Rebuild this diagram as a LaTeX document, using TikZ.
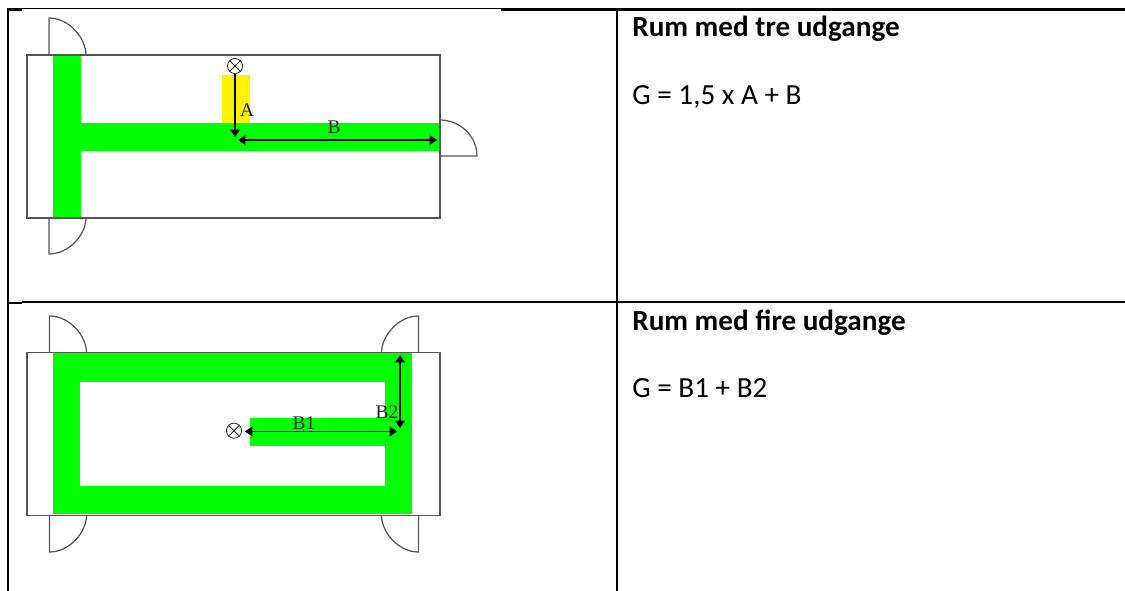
\documentclass[tikz,border=0pt]{standalone}
\usepackage{fontspec}
\setmainfont{Carlito}
\newfontfamily\planfont{Liberation Serif}
\usetikzlibrary{arrows.meta}
\definecolor{planline}{RGB}{85,85,85}
\tikzset{
  rule/.style={black,line width=1.15pt},
  thinrule/.style={black,line width=0.6pt},
  wall/.style={planline,line width=0.7pt},
  route/.style={fill={rgb,255:red,0;green,255;blue,0}},
  measure/.style={black,line width=0.6pt,{Triangle[length=4.2pt,width=5.6pt]}-{Triangle[length=4.2pt,width=5.6pt]}},
  drop/.style={black,line width=0.6pt,-{Triangle[length=4.2pt,width=5.6pt]}},
  planlabel/.style={inner sep=0pt,font=\planfont\fontsize{11}{11}\selectfont,text=black!85},
  target/.style={draw=black!80,circle,line width=0.5pt,minimum size=8.6pt,inner sep=0pt},
  celltext/.style={anchor=base west,inner sep=0pt,font=\fontsize{16.6}{16.6}\selectfont}
}
\begin{document}
\begin{tikzpicture}[x=0.02cm,y=-0.02cm]
\useasboundingbox (0,0) rectangle (1125,591);
%%%%Table
\draw[rule] (8,9.5)--(22,9.5);
\draw[thinrule] (22,8.5)--(501,8.5);
\draw[rule] (501,9.5)--(1125,9.5);
\draw[rule] (8,303)--(22,303);
\draw[thinrule] (22,302)--(501,302);
\draw[rule] (501,302)--(1125,302);
\draw[rule] (8,8.5)--(8,591);
\draw[rule] (617,9.5)--(617,591);
%%%%Room with three exits
\fill[route] (53,55) rectangle (81,218);
\fill[route] (81,123) rectangle (440,151);
\fill[yellow] (222,75) rectangle (250,123);
\draw[wall] (27,55) rectangle (440,218);
\foreach \hx/\wy/\dx/\dy in {49/55/37/-37,49/218/37/36}
  \draw[wall] (\hx,\wy)--(\hx,\wy+\dy) .. controls (\hx+0.55*\dx,\wy+\dy) and (\hx+\dx,\wy+0.45*\dy) .. (\hx+\dx,\wy);
\draw[wall] (440,120) .. controls (460,120) and (477,136) .. (477,156)--(440,156);
%
\node[target] (T) at (235,66) {};
\draw[black!80,line width=0.5pt] (T.45)--(T.225) (T.135)--(T.315);
\coordinate (Aend) at (235,137);
\coordinate (Bstart) at (238,140);
\coordinate (Bend) at (437,140);
\draw[drop] (T.south)--(Aend);
\draw[measure] (Bstart)--(Bend);
\node[planlabel] (A) at (247,110) {A};
\node[planlabel] (B) at (334,127) {B};
%%%%Room with four exits
\fill[route] (52.5,353) rectangle (412,514);
\fill[white] (80,381.7) rectangle (384.5,486);
\fill[route] (250,418) rectangle (384.5,445.7);
\draw[wall] (27,352.5) rectangle (440,515.5);
\foreach \hx/\wy/\dx/\dy in {49.5/352.5/37/-36.5,49.5/515.5/37/36.5,418.5/352.5/-37/-36.5,418.5/515.5/-37/36.5}
  \draw[wall] (\hx,\wy)--(\hx,\wy+\dy) .. controls (\hx+0.55*\dx,\wy+\dy) and (\hx+\dx,\wy+0.45*\dy) .. (\hx+\dx,\wy);
%
\node[target] (U) at (234,430.7) {};
\draw[black!80,line width=0.5pt] (U.45)--(U.225) (U.135)--(U.315);
\coordinate (Bonestart) at (245,431.5);
\coordinate (Boneend) at (397,431.5);
\coordinate (Btwostart) at (400,355);
\coordinate (Btwoend) at (400,428);
\draw[measure] (Bonestart)--(Boneend);
\draw[measure] (Btwostart)--(Btwoend);
\node[planlabel] (Bone) at (304,423) {B1};
\node[planlabel] (Btwo) at (387,412) {B2};
%%%%Text
\node[celltext] (title1) at (632,36.5) {\textbf{Rum med tre udgange}};
\node[celltext] (formula1) at (632,105) {G = 1,5 x A + B};
\node[celltext] (title2) at (632,330) {\textbf{Rum med fire udgange}};
\node[celltext] (formula2) at (632,397) {G = B1 + B2};
\end{tikzpicture}
\end{document}
